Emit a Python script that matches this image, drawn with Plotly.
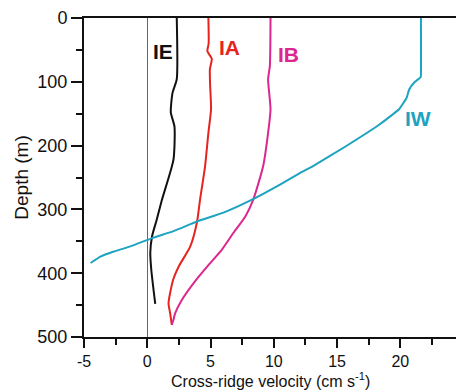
import plotly.graph_objects as go

# Depth (m) and cross-ridge velocity (cm/s) for each profile
ie_depth = [0, 96, 117, 148, 170, 222, 285, 316, 342, 368, 395, 448]
ie_vel   = [2.33, 2.33, 2.0, 1.86, 2.15, 2.07, 1.16, 0.75, 0.38, 0.24, 0.32, 0.63]

ia_depth = [0, 40, 52, 64, 80, 101, 143, 180, 232, 285, 321, 358, 389, 410, 447, 463, 481]
ia_vel   = [4.83, 4.85, 4.75, 5.1, 4.95, 4.96, 5.04, 4.83, 4.57, 4.17, 3.92, 3.4, 2.5, 2.05, 1.68, 1.81, 1.94]

ib_depth = [0, 75, 96, 143, 180, 232, 285, 311, 337, 363, 387, 412, 442, 463, 473, 481]
ib_vel   = [9.74, 9.69, 9.55, 9.74, 9.55, 9.16, 8.37, 7.75, 6.8, 5.9, 4.85, 3.8, 2.73, 2.2, 2.07, 1.94]

iw_depth = [0, 90, 93, 101, 112, 125, 143, 167, 201, 232, 243, 261, 285, 305, 319, 334, 345, 358, 366, 374, 384]
iw_vel   = [21.63, 21.63, 21.6, 21.1, 20.7, 20.5, 19.9, 18.35, 15.7, 13.1, 12.06, 10.49, 8.24, 6.02, 3.92, 2.08, 0.38, -1.33, -2.65, -3.7, -4.48]

series_names = ["IE", "IA", "IB", "IW"]
series_colors = ["#111111", "#e5241f", "#dc2690", "#1ea3c1"]
series_smooth = [0.6, 0.6, 0.6, 0.3]
label_pos = [(1.27, 52), (6.47, 46), (11.2, 57), (21.4, 157)]

x_ticks = [-5, 0, 5, 10, 15, 20]
y_ticks = [0, 100, 200, 300, 400, 500]
x_title = "Cross-ridge velocity (cm s<sup>-1</sup>)"
y_title = "Depth (m)"

FONT = "Liberation Sans, Arial, sans-serif"

fig = go.Figure()
for name, d, v, c, s in zip(series_names, [ie_depth, ia_depth, ib_depth, iw_depth],
                            [ie_vel, ia_vel, ib_vel, iw_vel], series_colors, series_smooth):
    fig.add_trace(go.Scatter(x=v, y=d, mode="lines", name=name,
                             line=dict(color=c, width=2, shape="spline", smoothing=s),
                             showlegend=False))

for name, (lx, ly), c in zip(series_names, label_pos, series_colors):
    fig.add_annotation(x=lx, y=ly, text="<b>%s</b>" % name, showarrow=False,
                       font=dict(family=FONT, size=21, color=c))

# x-axis title placed just below the tick labels
fig.add_annotation(xref="paper", yref="paper", x=0.5, y=0, yshift=-55,
                   xanchor="center", yanchor="bottom", showarrow=False,
                   text=x_title, font=dict(family=FONT, size=16, color="#111111"))

fig.update_layout(
    width=456, height=391,
    margin=dict(l=84, r=0, t=18, b=54),
    paper_bgcolor="white", plot_bgcolor="white",
    font=dict(family=FONT, color="#111111"),
)
fig.update_xaxes(
    range=[-5, 24.4], tickvals=x_ticks, ticktext=[str(t) for t in x_ticks],
    ticks="outside", ticklen=9, tickwidth=1.5, tickcolor="#111",
    minor=dict(dtick=2.5, tick0=0, ticks="outside", ticklen=6, tickwidth=1.5, tickcolor="#111"),
    showline=True, linecolor="#111", linewidth=2, mirror=True,
    showgrid=False, zeroline=True, zerolinecolor="#666", zerolinewidth=1,
    tickfont=dict(size=16),
)
fig.update_yaxes(
    range=[500, 0], tickvals=y_ticks, ticktext=[str(t) for t in y_ticks],
    ticks="outside", ticklen=11, tickwidth=1.5, tickcolor="#111",
    minor=dict(dtick=50, tick0=0, ticks="outside", ticklen=6, tickwidth=1.5, tickcolor="#111"),
    showline=True, linecolor="#111", linewidth=2,
    showgrid=False, zeroline=False,
    tickfont=dict(size=18),
    title=dict(text=y_title, font=dict(size=19), standoff=4),
)

fig.write_html("out.html")
